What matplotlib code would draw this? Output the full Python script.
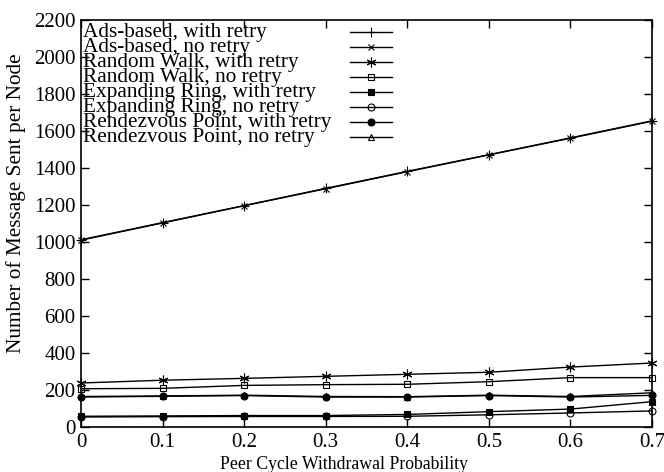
import matplotlib
matplotlib.use('Agg')
import matplotlib.pyplot as plt

plt.rcParams['font.family'] = ['Liberation Serif', 'DejaVu Serif']

prob = [0, 0.1, 0.2, 0.3, 0.4, 0.5, 0.6, 0.7]

ads_retry = [1012, 1105, 1197, 1290, 1382, 1472, 1563, 1655]
ads_noretry = [1010, 1103, 1196, 1288, 1380, 1471, 1561, 1653]
rw_retry = [238, 253, 263, 274, 285, 296, 324, 346]
rw_noretry = [207, 209, 225, 229, 231, 245, 267, 267]
er_retry = [58, 60, 62, 62, 68, 83, 97, 137]
er_noretry = [54, 56, 57, 57, 58, 66, 76, 87]
rv_retry = [162, 166, 170, 162, 162, 170, 162, 171]
rv_noretry = [165, 168, 172, 165, 164, 172, 165, 185]

labels = ['Ads-based, with retry', 'Ads-based, no retry',
          'Random Walk, with retry', 'Random Walk, no retry',
          'Expanding Ring, with retry', 'Expanding Ring, no retry',
          'Rendezvous Point, with retry', 'Rendezvous Point, no retry']
series = [ads_retry, ads_noretry, rw_retry, rw_noretry,
          er_retry, er_noretry, rv_retry, rv_noretry]
markers = ['+', 'x', (6, 2, 0), 's', 's', 'o', 'o', '^']
fills = ['full', 'full', 'full', 'none', 'full', 'none', 'full', 'none']
sizes = [7, 5, 7, 5, 5, 5, 5, 5]

fig = plt.figure(figsize=(6.64, 4.72), dpi=100)
ax = fig.add_axes([0.122, 0.0953, 0.860, 0.8623])

for i, ys in enumerate(series):
    ax.plot(prob, ys, color='black', lw=1, marker=markers[i],
            fillstyle=fills[i], markersize=sizes[i], markeredgewidth=0.8,
            clip_on=False, zorder=3)

# gnuplot style key: text left, sample on the right
y0 = 0.9705
dy = 0.0369
for i, lab in enumerate(labels):
    y = y0 - i * dy
    ax.text(0.004, y, lab, transform=ax.transAxes, fontsize=15.3,
            va='center', ha='left')
    ax.plot([0.471, 0.545], [y, y], transform=ax.transAxes, color='black',
            lw=1)
    ax.plot([0.508], [y], transform=ax.transAxes, color='black', lw=0,
            marker=markers[i], fillstyle=fills[i], markersize=sizes[i],
            markeredgewidth=0.8)

ax.set_xlim(0, 0.7)
ax.set_ylim(0, 2200)
ax.set_xticks(prob)
ax.set_xticklabels(['0', '0.1', '0.2', '0.3', '0.4', '0.5', '0.6', '0.7'])
ax.set_yticks(range(0, 2201, 200))
ax.tick_params(direction='in', top=True, right=True, length=6, width=1,
               labelsize=15, pad=4)
for s in ax.spines.values():
    s.set_linewidth(1.2)

ax.set_xlabel('Peer Cycle Withdrawal Probability', fontsize=12.8)
ax.xaxis.set_label_coords(0.46, -0.072)
ax.set_ylabel('Number of Message Sent per Node', fontsize=15.3)
ax.yaxis.set_label_coords(-0.096, 0.55)

fig.savefig('out.png', dpi=100)
